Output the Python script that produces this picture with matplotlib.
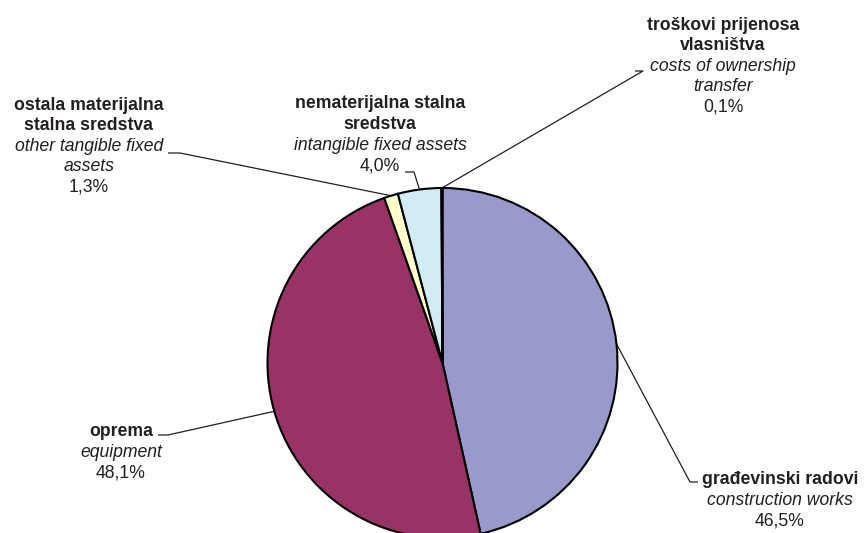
import numpy as np
import matplotlib
matplotlib.use('Agg')
import matplotlib.pyplot as plt

# shares of investment by type (%), clockwise from the top
shares = [46.5, 48.1, 1.3, 4.0, 0.1]
names_hr = ['građevinski radovi', 'oprema', 'ostala materijalna\nstalna sredstva',
            'nematerijalna stalna\nsredstva', 'troškovi prijenosa\nvlasništva']
names_en = ['construction works', 'equipment', 'other tangible fixed\nassets',
            'intangible fixed assets', 'costs of ownership\ntransfer']
pct_labels = ['46,5%', '48,1%', '1,3%', '4,0%', '0,1%']
colors = ['#9999CC', '#993366', '#FFFFCC', '#D2ECF4', '#FFFFFF']

W, H = 865, 533
TXT = '#231F20'
plt.rcParams['font.family'] = ['Liberation Sans', 'DejaVu Sans']

fig = plt.figure(figsize=(W / 100, H / 100), dpi=100)
ax = fig.add_axes([0, 0, 1, 1])

cx, cy, R = 442.5, 363, 175
wedges, _ = ax.pie(shares, colors=colors, startangle=90, counterclock=False,
                   center=(cx, H - cy), radius=R,
                   wedgeprops=dict(edgecolor='black', linewidth=1.5))
ax.set_xlim(0, W)
ax.set_ylim(0, H)
ax.set_aspect('equal')
ax.axis('off')

# label layout: (center x, top line y, tick start x, tick end x, tick y) in pixels
layout = [
    (780, 480, 698, 690, 482),
    (121, 432, 158, 168, 435),
    (89, 105, 168, 180, 153),
    (380, 104, 405, 414, 172),
    (723, 25, 635, 643, 71),
]
step = 20.6
fs = 12.7

for w, hr, en, pc, (tx, ty, kx0, kx1, ky) in zip(wedges, names_hr, names_en,
                                                  pct_labels, layout):
    lines = [(s, 'bold', 'normal') for s in hr.split('\n')]
    lines += [(s, 'normal', 'italic') for s in en.split('\n')]
    lines += [(pc, 'normal', 'normal')]
    for i, (s, wt, st) in enumerate(lines):
        ax.text(tx, H - (ty + i * step), s, ha='center', va='center',
                fontsize=fs, fontweight=wt, fontstyle=st, color=TXT)
    # leader line from slice midpoint to label
    mid = np.deg2rad((w.theta1 + w.theta2) / 2)
    px, py = cx + R * np.cos(mid), (H - cy) + R * np.sin(mid)
    ax.plot([kx0, kx1, px], [H - ky, H - ky, py], color=TXT, lw=0.9,
            solid_capstyle='butt', zorder=0.5)

fig.savefig('out.png', dpi=100)
